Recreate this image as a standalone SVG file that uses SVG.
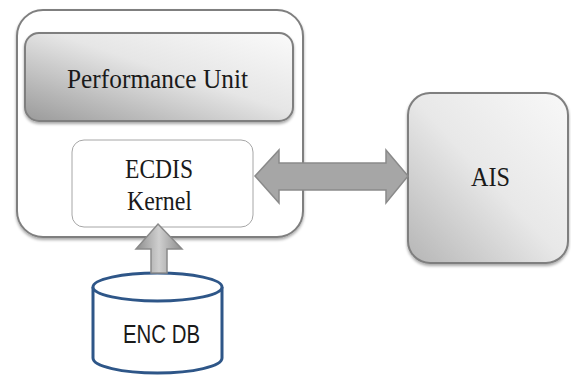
<svg xmlns="http://www.w3.org/2000/svg" width="571" height="382" viewBox="0 0 571 382">
<defs>
<style>
.serif{font-family:"Liberation Serif","Times New Roman",serif;font-size:27px;fill:#1a1a1a;text-anchor:middle}
.sans{font-family:"Liberation Sans",Arial,sans-serif;font-size:25px;fill:#1a1a1a;text-anchor:middle}
.box{stroke:#7f7f7f;stroke-width:2}
.arrow{stroke:#8a8a8a;stroke-width:1.5}
</style>
<linearGradient id="gPU" x1="0" y1="1" x2="1" y2="0">
<stop offset="0" stop-color="#9a9a9a"/>
<stop offset="0.55" stop-color="#e6e6e6"/>
<stop offset="1" stop-color="#fafafa"/>
</linearGradient>
<linearGradient id="gAIS" x1="0" y1="1" x2="1" y2="0">
<stop offset="0" stop-color="#b5b5b5"/>
<stop offset="0.5" stop-color="#e8e8e8"/>
<stop offset="1" stop-color="#f8f8f8"/>
</linearGradient>
<linearGradient id="gUp" x1="0" y1="0" x2="1" y2="0">
<stop offset="0" stop-color="#8c8c8c"/>
<stop offset="0.5" stop-color="#cfcfcf"/>
<stop offset="1" stop-color="#8c8c8c"/>
</linearGradient>
<filter id="sh" x="-10%" y="-10%" width="130%" height="130%">
<feGaussianBlur in="SourceAlpha" stdDeviation="1.5"/>
<feOffset dx="0" dy="2" result="b"/>
<feComponentTransfer><feFuncA type="linear" slope="0.35"/></feComponentTransfer>
<feMerge><feMergeNode/><feMergeNode in="SourceGraphic"/></feMerge>
</filter>
</defs>
<rect width="571" height="382" fill="#ffffff"/>

<g id="outer">
<rect class="box" x="17" y="10" width="286" height="227" rx="26" fill="#ffffff" filter="url(#sh)"/>
</g>

<g id="performance-unit">
<rect class="box" x="25" y="33" width="268" height="88" rx="14" fill="url(#gPU)" filter="url(#sh)"/>
<text class="serif" x="157.5" y="88" textLength="181" lengthAdjust="spacingAndGlyphs">Performance Unit</text>
</g>

<g id="ecdis-kernel">
<rect x="72" y="140" width="181" height="87" rx="12" fill="#ffffff" stroke="#a6a6a6" stroke-width="1"/>
<text class="serif" x="159" y="178" textLength="68" lengthAdjust="spacingAndGlyphs">ECDIS</text>
<text class="serif" x="159.5" y="210" textLength="65" lengthAdjust="spacingAndGlyphs">Kernel</text>
</g>

<g id="ais">
<rect class="box" x="408" y="93" width="160" height="170" rx="22" fill="url(#gAIS)" filter="url(#sh)"/>
<text class="serif" x="490.5" y="186" textLength="39" lengthAdjust="spacingAndGlyphs">AIS</text>
</g>

<g id="enc-db">
<path d="M93,287 V358 A64.5,15 0 0 0 222,358 V287" fill="#ffffff" stroke="#2e5688" stroke-width="3"/>
<ellipse cx="157.5" cy="287" rx="64.5" ry="14" fill="#ffffff" stroke="#2e5688" stroke-width="3"/>
<text class="sans" x="161.5" y="343" textLength="77" lengthAdjust="spacingAndGlyphs">ENC DB</text>
</g>

<g id="connectors">
<path class="arrow" d="M255,176 L279,150 L279,163 L386,163 L386,150 L408,176 L386,203 L386,190 L279,190 L279,203 Z" fill="#a6a6a6"/>
<path class="arrow" d="M158,224 L182,249 L167,249 L167,273 L151,273 L151,249 L136,249 Z" fill="url(#gUp)"/>
</g>
</svg>
